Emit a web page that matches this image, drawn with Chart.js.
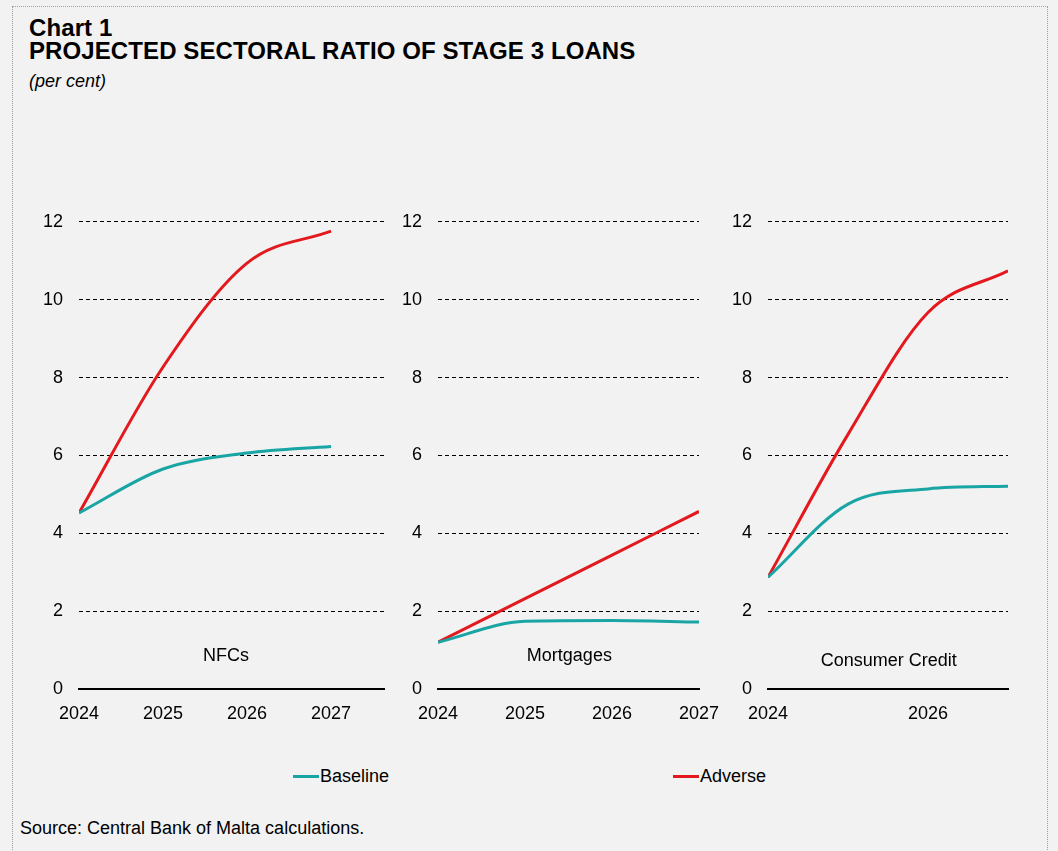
<!DOCTYPE html>
<html>
<head>
<meta charset="utf-8">
<script src="https://cdn.jsdelivr.net/npm/chart.js@4.4.1/dist/chart.umd.min.js"></script>
<style>
  html, body { margin: 0; padding: 0; background: #f2f2f2; }
  #page { position: relative; width: 1058px; height: 851px; background: #f2f2f2; overflow: hidden;
          font-family: "Liberation Sans", Arial, sans-serif; color: #000; }
  #frame { position: absolute; left: 12px; top: 6px; width: 1034px; height: 900px; border: 1px dotted #a0a0a0; }
  .t { position: absolute; left: 29px; white-space: nowrap; }
  .h { font-weight: bold; font-size: 24px; line-height: 24px; letter-spacing: 0.1px; }
  .sub { font-style: italic; font-size: 18px; line-height: 20px; }
  .src { position: absolute; left: 20px; top: 818px; font-size: 18px; line-height: 20px; white-space: nowrap; }
  canvas { position: absolute; }
  .leg { position: absolute; top: 766px; font-size: 18px; line-height: 20px; display: flex; align-items: center; }
  .leg i { display: inline-block; width: 26px; height: 3px; margin-right: 1px; }
</style>
</head>
<body>
<div id="page">
  <div id="frame"></div>
  <div class="t h" style="top:16px">Chart 1</div>
  <div class="t h" style="top:39px">PROJECTED SECTORAL RATIO OF STAGE 3 LOANS</div>
  <div class="t sub" style="top:71px">(per cent)</div>
  <canvas id="c1"></canvas>
  <canvas id="c2"></canvas>
  <canvas id="c3"></canvas>
  <div id="legend"></div>
  <div class="src">Source: Central Bank of Malta calculations.</div>
</div>
<script>
/* Projected sectoral ratio of stage 3 loans */
const years = [2024, 2025, 2026, 2027];
const seriesNames = ['Baseline', 'Adverse'];
const seriesColors = ['#1aa5a5', '#e3191e'];

const nfcBaseline = [4.52, 5.65, 6.06, 6.23];
const nfcAdverse = [4.52, 8.27, 10.94, 11.76];
const mortBaseline = [1.2, 1.74, 1.76, 1.72];
const mortAdverse = [1.2, 2.32, 3.44, 4.56];
const ccBaseline = [2.87, 4.75, 5.14, 5.21];
const ccAdverse = [2.87, 6.54, 9.67, 10.74];

const yMin = 0, yMax = 12, yStep = 2;

Chart.defaults.font.family = '"Liberation Sans", Arial, sans-serif';
Chart.defaults.font.size = 18;
Chart.defaults.color = '#000';

const panelLabel = {
  id: 'panelLabel',
  afterDatasetsDraw(chart, args, opts) {
    const { ctx, scales: { x, y } } = chart;
    ctx.save();
    ctx.font = '18px "Liberation Sans", Arial, sans-serif';
    ctx.fillStyle = '#000';
    ctx.textAlign = 'center';
    ctx.textBaseline = 'middle';
    ctx.fillText(opts.text, x.getPixelForValue(opts.x), y.getPixelForValue(opts.y));
    ctx.restore();
  },
};

function makePanel({ id, left, top, width, height, padRight, xMax, xStep, base, adv, label }) {
  const cv = document.getElementById(id);
  cv.width = width; cv.height = height;
  cv.style.left = left + 'px'; cv.style.top = top + 'px';
  const pts = (vals) => years.map((yr, i) => ({ x: yr, y: vals[i] }));
  new Chart(cv, {
    type: 'line',
    data: {
      datasets: [base, adv].map((vals, i) => ({
        label: seriesNames[i],
        data: pts(vals),
        borderColor: seriesColors[i],
        borderWidth: 3,
        pointRadius: 0,
        cubicInterpolationMode: 'monotone',
        fill: false,
      })),
    },
    options: {
      responsive: false,
      animation: false,
      layout: { padding: { top: 20, right: padRight, bottom: 0, left: 0 } },
      plugins: { legend: { display: false }, tooltip: { enabled: false }, panelLabel: label },
      scales: {
        x: {
          type: 'linear', min: 2024, max: xMax,
          grid: { display: false },
          border: { display: true, color: '#000', width: 2 },
          ticks: { stepSize: xStep, includeBounds: false, padding: 6, maxRotation: 0, callback: (v) => String(v) },
          afterFit: (s) => { s.height = 40; },
        },
        y: {
          min: yMin, max: yMax,
          grid: { color: '#000', lineWidth: 1, drawTicks: false },
          border: { display: false, dash: [4, 3] },
          ticks: { stepSize: yStep, padding: 16 },
          afterFit: (s) => { s.width = 60; },
        },
      },
    },
    plugins: [panelLabel],
  });
}

makePanel({ id: 'c1', left: 19, top: 195, width: 375, height: 534, padRight: 10,
  xMax: 2027.63, xStep: 1, base: nfcBaseline, adv: nfcAdverse,
  label: { text: 'NFCs', x: 2025.75, y: 0.85 } });
makePanel({ id: 'c2', left: 378, top: 195, width: 351, height: 534, padRight: 30,
  xMax: 2027, xStep: 1, base: mortBaseline, adv: mortAdverse,
  label: { text: 'Mortgages', x: 2025.51, y: 0.85 } });
makePanel({ id: 'c3', left: 708, top: 195, width: 320, height: 534, padRight: 20,
  xMax: 2027, xStep: 2, base: ccBaseline, adv: ccAdverse,
  label: { text: 'Consumer Credit', x: 2025.51, y: 0.72 } });

const legendLeft = [293, 673];
document.getElementById('legend').innerHTML = seriesNames.map((n, i) =>
  `<div class="leg" style="left:${legendLeft[i]}px"><i style="background:${seriesColors[i]}"></i>${n}</div>`
).join('');
</script>
</body>
</html>
